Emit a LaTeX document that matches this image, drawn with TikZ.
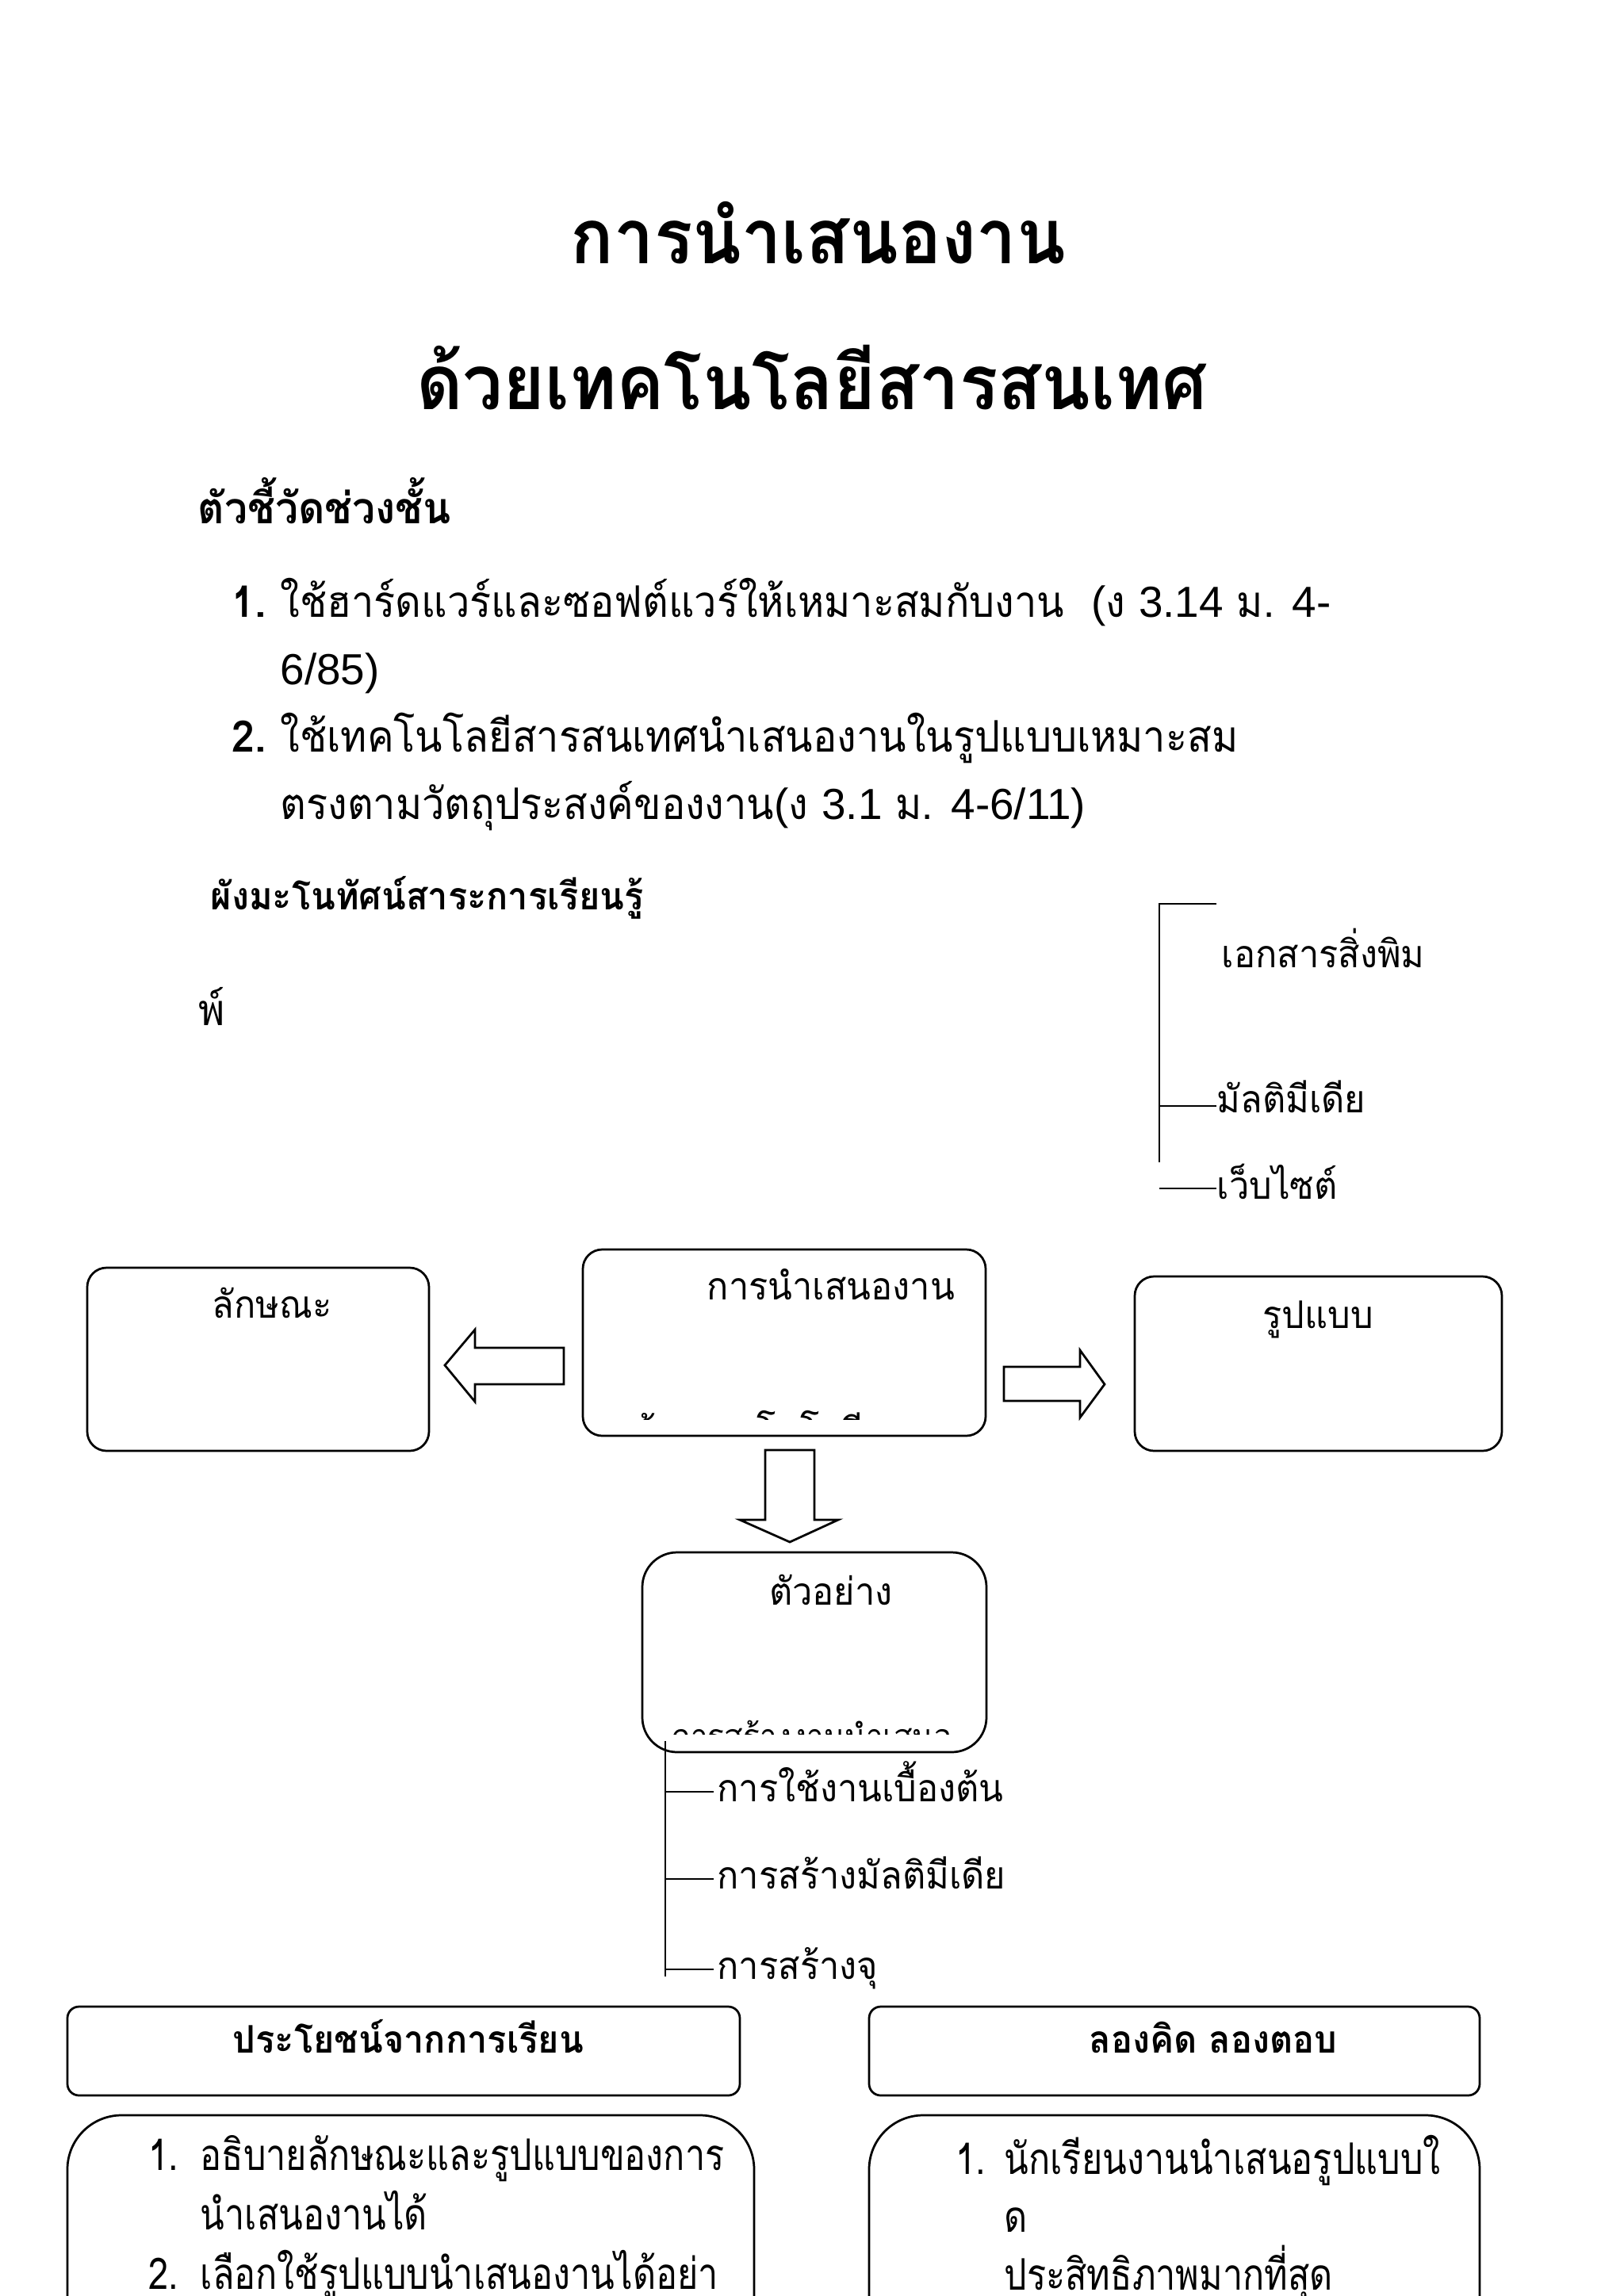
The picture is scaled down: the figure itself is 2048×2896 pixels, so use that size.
\documentclass[tikz,border=0pt]{standalone}
\usepackage{fontspec}
\setmainfont[Script=Thai,FakeStretch=0.94]{Loma}
\newfontfamily\itmfont[Script=Thai,FakeStretch=0.92]{Loma}
\newfontfamily\panelfont[Script=Thai,FakeStretch=0.82]{Loma}
\newfontfamily\latfont{Liberation Sans}
\newcommand{\lat}[1]{{\latfont #1}}
\usetikzlibrary{positioning,calc,fit}
\tikzset{
  box/.style={draw,line width=0.8pt,inner sep=0pt,rounded corners=2.5mm},
  ttl/.style={inner sep=0pt,anchor=base,font=\fontsize{28}{34}\selectfont\bfseries},
  hd/.style={inner sep=0pt,anchor=base west,font=\fontsize{16}{20}\selectfont\bfseries},
  itm/.style={inner sep=0pt,anchor=base west,font=\itmfont\fontsize{16}{20}\selectfont},
  pnl/.style={inner sep=0pt,anchor=base west,font=\panelfont\fontsize{16}{20}\selectfont},
  sub/.style={inner sep=0pt,anchor=base west,font=\fontsize{14}{18}\selectfont\bfseries},
  lbl/.style={inner sep=0pt,anchor=base,font=\fontsize{14}{18}\selectfont},
  twig/.style={line width=0.6pt},
  blk/.style={draw,line width=0.8pt,fill=white,line join=miter},
}
\begin{document}
\begin{tikzpicture}[x=0.10254mm,y=-0.10254mm]
  \useasboundingbox (0,0) rectangle (2048,2896);
  \clip (0,0) rectangle (2048,2896);
  % --- title ---
  \node[ttl] (ttlA) at (1032,332) {การนำเสนองาน};
  \node[ttl] (ttlB) at (1024,516) {ด้วยเทคโนโลยีสารสนเทศ};
  % --- indicators ---
  \node[hd] (ind) at (249,660) {ตัวชี้วัดช่วงชั้น};
  \node[hd] (num1) at (292,778) {1.};
  \node[itm] (ind1a) at (353,778) {ใช้ฮาร์ดแวร์และซอฟต์แวร์ให้เหมาะสมกับงาน\ \ \lat{(}ง \lat{3.14} ม. \lat{4-}};
  \node[itm] (ind1b) at (353,863) {\lat{6/85)}};
  \node[hd] (num2) at (292,948) {2.};
  \node[itm] (ind2a) at (353,948) {ใช้เทคโนโลยีสารสนเทศนำเสนองานในรูปแบบเหมาะสม};
  \node[itm] (ind2b) at (353,1033) {ตรงตามวัตถุประสงค์ของงาน\lat{(}ง \lat{3.1} ม. \lat{4-6/11)}};
  % --- concept map heading ---
  \node[sub] (cmap) at (265,1147) {ผังมะโนทัศน์สาระการเรียนรู้};
  \node[itm] (pk) at (250,1293) {พ์};
  % --- media tree (top right) ---
  \coordinate (mtop) at (1462,1140);
  \coordinate (mbot) at (1462,1466);
  \coordinate (mtip) at (1534,1140);
  \node[lbl,anchor=base west] (doc) at (1540,1220) {เอกสารสิ่งพิม};
  \node[lbl,anchor=base west] (mm) at (1534,1403) {มัลติมีเดีย};
  \node[lbl,anchor=base west] (web) at (1534,1512) {เว็บไซต์};
  \draw[twig] (mtip) -- (mtop) -- (mbot);
  \draw[twig] ($(mm.base west)+(0,-8)$) -- ($(mm.base west)+(-72,-8)$);
  \draw[twig] ($(web.base west)+(0,-13)$) -- ($(web.base west)+(-72,-13)$);
  % --- central boxes ---
  \node[box,fit={(110,1599) (541,1830)}] (feat) {};
  \node[box,fit={(735,1576) (1243,1811)}] (pres) {};
  \node[box,fit={(1431,1610) (1894,1830)}] (form) {};
  \node[lbl] (featT) at (343,1662) {ลักษณะ};
  \node[lbl] (presT) at (1048,1639) {การนำเสนองาน};
  \node[lbl] (formT) at (1662,1675) {รูปแบบ};
  \begin{scope}
    \clip (740,1700) rectangle (1238,1790);
    \node[lbl] (presU) at (1048,1822) {ด้วยเทคโนโลยีสารสนเทศ};
  \end{scope}
  % --- block arrows ---
  \draw[blk] (711,1700) -- (599,1700) -- (599,1677) -- (561,1722) -- (599,1768) -- (599,1746) -- (711,1746) -- cycle;
  \draw[blk] (1266,1724) -- (1362,1724) -- (1362,1703) -- (1393,1746) -- (1362,1788) -- (1362,1767) -- (1266,1767) -- cycle;
  \draw[blk] (965,1829) -- (1027,1829) -- (1027,1917) -- (1057,1917) -- (996,1945) -- (933,1917) -- (965,1917) -- cycle;
  % --- examples ---
  \node[box,rounded corners=4.5mm,fit={(810,1958) (1244,2210)}] (ex) {};
  \node[lbl] (exT) at (1048,2024) {ตัวอย่าง};
  \begin{scope}
    \clip (815,2100) rectangle (1240,2187);
    \node[lbl,font=\fontsize{12}{16}\selectfont] (exU) at (1024,2204) {การสร้างงานนำเสนอ};
  \end{scope}
  \coordinate (etop) at (839,2196);
  \coordinate (ebot) at (839,2493);
  \draw[twig] (etop) -- (ebot);
  \foreach \nm/\yy/\txt in {exA/2260/การใช้งานเบื้องต้น,exB/2370/การสร้างมัลติมีเดีย,exC/2484/การสร้างจุ}{
    \node[lbl,anchor=base west] (\nm) at (904,\yy+12) {\txt};
    \draw[twig] ($(\nm.base west)+(-4,-12)$) -- ($(\nm.base west)+(-65,-12)$);
  }
  % --- bottom panels ---
  \node[box,rounded corners=1.5mm,fit={(85,2531) (933,2643)}] (gain) {};
  \node[box,rounded corners=1.5mm,fit={(1096,2531) (1866,2643)}] (quiz) {};
  \node[sub,anchor=base] (gainT) at (515,2589) {ประโยชน์จากการเรียน};
  \node[sub,anchor=base] (quizT) at (1530,2589) {ลองคิด ลองตอบ};
  \node[box,rounded corners=7mm,fit={(85,2668) (951,3100)}] (gainB) {};
  \node[box,rounded corners=7mm,fit={(1096,2668) (1866,3100)}] (quizB) {};
  \node[pnl] (g1n) at (187,2737) {1.};
  \node[pnl] (g1a) at (252,2737) {อธิบายลักษณะและรูปแบบของการ};
  \node[pnl] (g1b) at (252,2812) {นำเสนองานได้};
  \node[pnl] (g2n) at (187,2887) {2.};
  \node[pnl] (g2a) at (252,2887) {เลือกใช้รูปแบบนำเสนองานได้อย่า};
  \node[pnl] (q1n) at (1205,2742) {1.};
  \node[pnl] (q1a) at (1266,2742) {นักเรียนงานนำเสนอรูปแบบใ};
  \node[pnl] (q1b) at (1266,2815) {ด};
  \node[pnl] (q1c) at (1266,2888) {ประสิทธิภาพมากที่สุด};
\end{tikzpicture}
\end{document}
